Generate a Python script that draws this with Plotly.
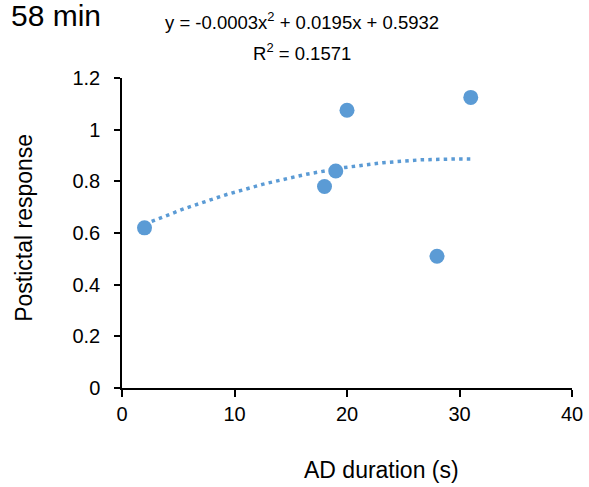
import numpy as np
import plotly.graph_objects as go

# Data
ad_duration = [2, 18, 19, 20, 28, 31]
postictal_response = [0.62, 0.78, 0.84, 1.075, 0.51, 1.125]

x_ticks = [0, 10, 20, 30, 40]
y_ticks = [0, 0.2, 0.4, 0.6, 0.8, 1.0, 1.2]
y_tick_text = ["0", "0.2", "0.4", "0.6", "0.8", "1", "1.2"]

title_text = "58 min"
equation_text = "y = -0.0003x<sup>2</sup> + 0.0195x + 0.5932"
r2_text = "R<sup>2</sup> = 0.1571"
x_title = "AD duration (s)"
y_title = "Postictal response"

# Polynomial (order 2) trendline fitted to the data, as Excel does
coef = np.polyfit(ad_duration, postictal_response, 2)
trend_x = np.linspace(min(ad_duration), max(ad_duration), 120)
trend_y = np.polyval(coef, trend_x)

BLUE = "#5B9BD5"
FONT = "Liberation Sans"

fig = go.Figure()
fig.add_trace(go.Scatter(
    x=trend_x, y=trend_y, mode="lines",
    line=dict(color=BLUE, width=3.5, dash="3.5px,4.2px"),
    hoverinfo="skip", showlegend=False,
))
fig.add_trace(go.Scatter(
    x=ad_duration, y=postictal_response, mode="markers",
    marker=dict(color=BLUE, size=15, line=dict(width=0)),
    showlegend=False,
))

axis_common = dict(
    showgrid=False, zeroline=False, showline=True,
    linecolor="black", linewidth=1.5,
    ticks="outside", tickcolor="black", tickwidth=1.5,
    tickfont=dict(family=FONT, size=20, color="black"),
    automargin=False,
)

fig.update_xaxes(range=[0, 40], tickvals=x_ticks, ticklen=7,
                 ticklabelstandoff=0, **axis_common)
fig.update_yaxes(range=[0, 1.2], tickvals=y_ticks, ticktext=y_tick_text,
                 ticklen=6, ticklabelstandoff=10, **axis_common)

annotations = [
    dict(text=title_text, x=-0.251, y=1.201, xanchor="left", yanchor="middle",
         font=dict(family=FONT, size=30, color="black")),
    dict(text=equation_text, x=0.40, y=1.185, xanchor="center", yanchor="middle",
         font=dict(family=FONT, size=18.5, color="black")),
    dict(text=r2_text, x=0.40, y=1.085, xanchor="center", yanchor="middle",
         font=dict(family=FONT, size=18.5, color="black")),
    dict(text=x_title, x=0.576, y=-0.2635, xanchor="center", yanchor="middle",
         font=dict(family=FONT, size=23, color="black")),
    dict(text=y_title, x=-0.2165, y=0.5155, xanchor="center", yanchor="middle",
         textangle=-90, font=dict(family=FONT, size=23, color="black")),
]
for a in annotations:
    a.update(xref="paper", yref="paper", showarrow=False)

fig.update_layout(
    width=589, height=487,
    margin=dict(l=122, r=17, t=78, b=99),
    paper_bgcolor="white", plot_bgcolor="white",
    annotations=annotations,
    showlegend=False,
)

# Remove the browser's default 8px body margin so the figure fills the window.
fig.write_html(
    "out.html",
    config={"displayModeBar": False},
    post_script="document.body.style.margin='0px';document.body.style.overflow='hidden';",
)
